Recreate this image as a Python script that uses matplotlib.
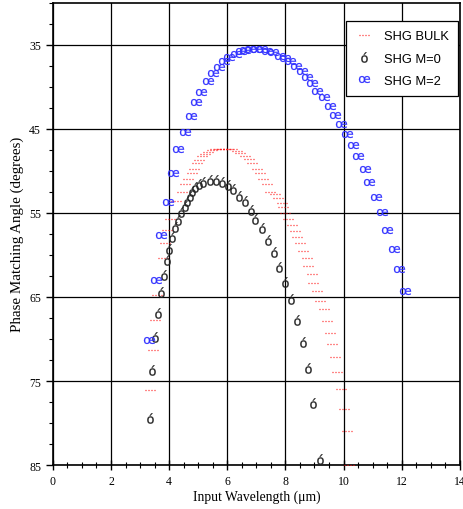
import numpy as np
import matplotlib
matplotlib.use("Agg")
import matplotlib.pyplot as plt
from matplotlib.path import Path
from matplotlib.ticker import MultipleLocator

plt.rcParams['font.family'] = ['Liberation Serif', 'DejaVu Serif']
plt.rcParams['mathtext.fontset'] = 'dejavusans'

# SHG bulk phase matching curve
bulk_wl = [3.35, 3.44, 3.52, 3.58, 3.80, 3.86, 3.92, 4.04, 4.23, 4.44, 4.55, 4.66,
           4.78, 4.84, 4.95, 5.01, 5.13, 5.24, 5.35, 5.47, 5.58, 5.70, 5.81, 5.93,
           6.04, 6.16, 6.33, 6.44, 6.62, 6.73, 6.85, 7.02, 7.13, 7.24, 7.36, 7.48,
           7.65, 7.76, 7.88, 7.93, 7.99, 8.10, 8.22, 8.34, 8.39, 8.51, 8.62, 8.74,
           8.79, 8.91, 8.96, 9.08, 9.20, 9.31, 9.43, 9.54, 9.60, 9.71, 9.79, 9.91,
           10.00, 10.13, 10.19]
bulk_ang = [76.09, 71.32, 67.74, 64.75, 60.37, 58.58, 56.99, 55.72, 53.62, 52.49, 51.62, 50.94,
            50.23, 49.75, 49.12, 48.72, 48.25, 47.96, 47.72, 47.57, 47.45, 47.39, 47.36, 47.36,
            47.36, 47.45, 47.65, 47.92, 48.25, 48.64, 49.12, 49.75, 50.23, 50.94, 51.62, 52.54,
            52.73, 53.21, 53.81, 54.28, 55.00, 55.72, 56.40, 57.20, 57.86, 58.58, 59.50, 60.37,
            61.29, 62.28, 63.35, 64.27, 65.47, 66.46, 67.85, 69.32, 70.63, 72.20, 73.97, 76.00,
            78.27, 80.98, 85.0]

# waveguide mode M=0
m0_wl = [3.35, 3.41, 3.50, 3.63, 3.73, 3.83, 3.92, 3.99, 4.09, 4.21, 4.32, 4.42,
         4.53, 4.61, 4.70, 4.80, 4.90, 5.03, 5.18, 5.41, 5.62, 5.81, 6.01, 6.21,
         6.40, 6.61, 6.80, 6.97, 7.19, 7.40, 7.59, 7.78, 7.99, 8.19, 8.41, 8.62,
         8.77, 8.96, 9.20]
m0_ang = [79.34, 73.70, 69.80, 66.86, 64.47, 62.36, 60.66, 59.26, 57.91, 56.69, 55.80, 54.93,
          54.13, 53.57, 52.97, 52.46, 51.98, 51.62, 51.32, 51.11, 51.11, 51.32, 51.71, 52.22,
          53.02, 53.62, 54.69, 55.72, 56.79, 58.19, 59.70, 61.44, 63.28, 65.25, 67.73, 70.32,
          73.50, 77.67, 84.24]

# waveguide mode M=2
m2_wl = [3.31, 3.55, 3.72, 3.96, 4.13, 4.31, 4.53, 4.75, 4.93, 5.09, 5.33, 5.52,
         5.70, 5.90, 6.07, 6.31, 6.48, 6.62, 6.79, 6.99, 7.19, 7.36, 7.57, 7.82,
         7.99, 8.16, 8.36, 8.57, 8.74, 8.93, 9.08, 9.31, 9.52, 9.71, 9.91, 10.13,
         10.31, 10.51, 10.74, 10.88, 11.11, 11.33, 11.51, 11.73, 11.90, 12.10]
m2_ang = [70.12, 62.96, 57.59, 53.69, 50.23, 47.45, 45.38, 43.54, 41.80, 40.61, 39.30, 38.38,
          37.63, 36.98, 36.50, 36.11, 35.79, 35.60, 35.48, 35.48, 35.55, 35.72, 35.91, 36.31,
          36.62, 36.98, 37.58, 38.17, 38.82, 39.57, 40.53, 41.21, 42.31, 43.39, 44.46, 45.65,
          46.96, 48.28, 49.80, 51.38, 53.14, 54.96, 56.99, 59.26, 61.65, 64.24]

# little row of dashes used as the bulk marker
verts, codes = [], []
for x0 in np.linspace(-1.0, 0.75, 4):
    verts += [(x0, 0), (x0 + 0.25, 0)]
    codes += [Path.MOVETO, Path.LINETO]
dash_marker = Path(verts, codes)

fig = plt.figure(figsize=(4.64, 5.10), dpi=100)
ax = fig.add_axes([0.114, 0.086, 0.877, 0.907])

ax.plot(bulk_wl, bulk_ang, ls='none', marker=dash_marker, ms=7, mew=0.9,
        mec='#ff1010', mfc='none', label='SHG BULK', zorder=3)
ax.plot(m0_wl, m0_ang, ls='none', marker=r'$\mathrm{ó}$', ms=7.5, mew=0.2,
        color='#222222', label='SHG M=0', zorder=4)
ax.plot(m2_wl, m2_ang, ls='none', marker=r'$\mathrm{œ}$', ms=8, mew=0.15,
        color='#3333ff', label='SHG M=2', zorder=4)

ax.set_xlim(0, 14)
ax.set_ylim(85, 30)
ax.xaxis.set_major_locator(MultipleLocator(2))
ax.xaxis.set_minor_locator(MultipleLocator(0.5))
ax.set_yticks([35, 45, 55, 65, 75, 85])
ax.yaxis.set_minor_locator(MultipleLocator(2.5))
ax.grid(True, which='major', color='black', lw=0.9)
ax.set_axisbelow(True)

ax.tick_params(axis='x', which='major', direction='inout', length=7, width=1, labelsize=8.5)
ax.tick_params(axis='x', which='minor', direction='inout', length=4, width=0.8)
ax.tick_params(axis='y', which='major', direction='out', length=5, width=1, labelsize=8.5)
ax.tick_params(axis='y', which='minor', direction='out', length=3, width=0.8)
for s in ax.spines.values():
    s.set_linewidth(1.2)

ax.set_xlabel('Input Wavelength (μm)', fontsize=9.8, labelpad=2)
ax.set_ylabel('Phase Matching Angle (degrees)', fontsize=10.8, labelpad=4)

leg = ax.legend(loc='upper right', bbox_to_anchor=(0.995, 0.96), borderaxespad=0,
                fancybox=False, edgecolor='black', framealpha=1, handlelength=1.4,
                handletextpad=0.8, labelspacing=0.8, borderpad=0.7,
                prop={'family': ['Liberation Sans', 'DejaVu Sans'], 'size': 9.3})
leg.get_frame().set_linewidth(0.9)

fig.savefig('out.png', dpi=100)
